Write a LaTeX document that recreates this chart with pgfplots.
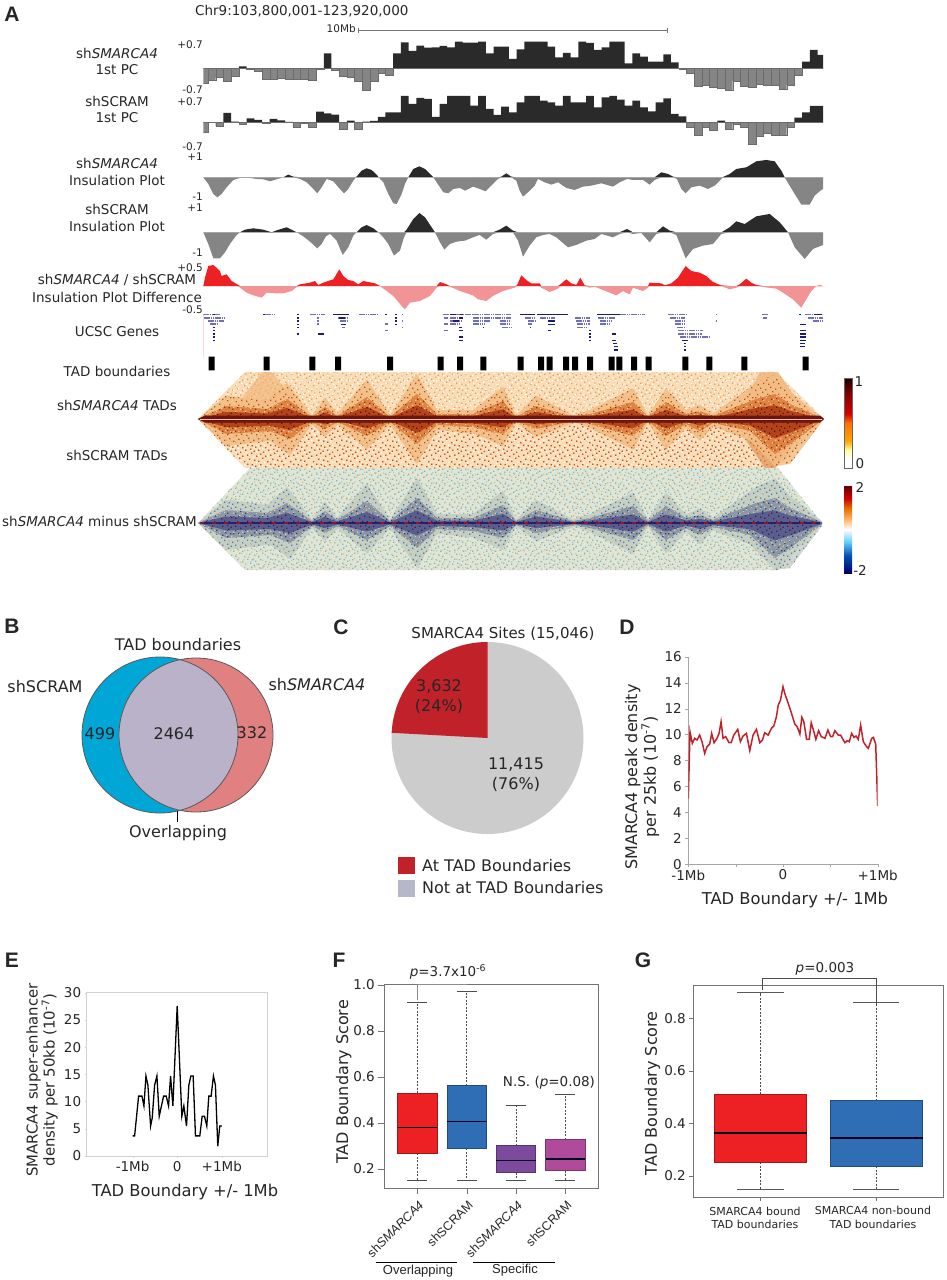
\documentclass[border=0pt]{standalone}
\usepackage{pgfplots}
\pgfplotsset{compat=1.18}
\usepackage{pgfplotstable}
\usepackage{fontspec}
\usepgfplotslibrary{statistics}
\usetikzlibrary{patterns}
\setmainfont{DejaVu Sans}
\newfontfamily\hv{Liberation Sans}
\newcommand{\fs}[1]{\fontsize{#1}{#1}\selectfont}
\newcommand{\Tx}[4][center]{\node[anchor=#1,inner sep=0pt,align=center,text=black!85] at (#2pt,-#3pt) {#4};}
\definecolor{pcdark}{HTML}{2A2A2A}
\definecolor{pcgrey}{HTML}{858585}
\definecolor{redp}{HTML}{ED2024}
\definecolor{pinkn}{HTML}{F29496}
\definecolor{navyd}{HTML}{1A1A78}
\definecolor{navyl}{HTML}{6F6FBE}
\definecolor{bred}{HTML}{ED2024}\definecolor{bblue}{HTML}{2F6DB5}
\definecolor{bpurp}{HTML}{7D4A9E}\definecolor{bmag}{HTML}{B04A9A}
\definecolor{vblue}{HTML}{00A6D6}\definecolor{vpink}{HTML}{E08080}\definecolor{vlens}{HTML}{B9B2C8}
\definecolor{pred}{HTML}{C1222A}\definecolor{pgr}{HTML}{CCCCCC}\definecolor{lgr}{HTML}{B4B8C8}
\definecolor{hA}{HTML}{F8DDB8}\definecolor{hB}{HTML}{E8A050}\definecolor{hC}{HTML}{C8501E}
\definecolor{hD}{HTML}{F2BE85}\definecolor{hE}{HTML}{C0501C}\definecolor{hF}{HTML}{DE8440}
\definecolor{hG}{HTML}{9A2A10}\definecolor{hH}{HTML}{F6C89A}\definecolor{hI}{HTML}{B4431A}
\definecolor{hJ}{HTML}{5A1208}\definecolor{hK}{HTML}{6A160F}\definecolor{hL}{HTML}{F0B070}
\definecolor{dA}{HTML}{DDE6D8}\definecolor{dB}{HTML}{7FB8BE}\definecolor{dC}{HTML}{E2BE82}
\definecolor{dD}{HTML}{BCCAC4}\definecolor{dE}{HTML}{5678A4}\definecolor{dF}{HTML}{8A98A8}
\definecolor{dG}{HTML}{2F3F85}\definecolor{dH}{HTML}{E8C890}\definecolor{dI}{HTML}{565F90}
\definecolor{dJ}{HTML}{5A1830}\definecolor{dK}{HTML}{2A1F66}\definecolor{dL}{HTML}{8A1830}
\newcommand{\dt}[2]{\pgfpathrectangle{\pgfqpoint{#1pt}{#2pt}}{\pgfqpoint{1.4pt}{1.4pt}}}
\pgfdeclarepatternformonly{spkA}{\pgfqpoint{0pt}{0pt}}{\pgfqpoint{24pt}{24pt}}{\pgfqpoint{23pt}{19pt}}{%
\dt{1}{2}\dt{5}{1}\dt{9}{4}\dt{14}{0.5}\dt{19}{3}\dt{3}{6}\dt{7}{8}\dt{12}{6}\dt{17}{7}\dt{21}{9}%
\dt{0.5}{11}\dt{5}{12}\dt{10}{10}\dt{15}{12}\dt{20}{13}\dt{2}{15}\dt{7}{16.5}\dt{12}{14.5}\dt{17}{17}\dt{21.5}{16.5}\pgfusepath{fill}}
\pgfdeclarepatternformonly{spkB}{\pgfqpoint{0pt}{0pt}}{\pgfqpoint{30pt}{18pt}}{\pgfqpoint{29pt}{17pt}}{%
\dt{3}{0.5}\dt{8}{3}\dt{13}{1}\dt{18}{3.5}\dt{24}{1}\dt{1}{5}\dt{6}{7}\dt{11}{5.5}\dt{16}{8}\dt{21}{6}\dt{26}{7.5}%
\dt{3.5}{10.5}\dt{9}{12}\dt{14}{11}\dt{19}{13}\dt{24}{11.5}\dt{1}{14.5}\dt{6}{15}\dt{12}{15}\dt{22}{15.5}\dt{27}{14.5}\pgfusepath{fill}}
\pgfdeclareverticalshading{cbA}{100bp}{color(0bp)=(white);color(25bp)=(white);color(30bp)=(white);color(35bp)=(yellow!35!white);color(40bp)=(orange!70!yellow);color(50bp)=(orange!90!red);color(55bp)=(red!85!black);color(67bp)=(red!50!black);color(75bp)=(black!90!red);color(100bp)=(black)}
\pgfdeclareverticalshading{cbB}{100bp}{color(0bp)=(blue!40!black);color(25bp)=(blue!40!black);color(35bp)=(blue!55!cyan!70!black);color(43bp)=(cyan!70!blue!60!white);color(50bp)=(white);color(56bp)=(orange!60!white);color(62bp)=(orange!90!black);color(68bp)=(red!80!black);color(75bp)=(red!40!black);color(100bp)=(red!40!black)}
\pgfplotsset{unbounded coords=jump,trk/.style={hide axis,scale only axis,clip=true},
 plain/.style={scale only axis,/pgf/number format/assume math mode=true,tick label style={font=\fs{13.5},text=black!85}}}
% 1st PC, bar heights
\pgfplotstableread[row sep=\\]{v\\-45\\-35\\-28\\-40\\-25\\6\\-4\\-8\\-32\\-32\\-30\\-32\\-32\\-32\\-37\\-2\\45\\-5\\-25\\-28\\-40\\-65\\-38\\-15\\-20\\45\\78\\52\\68\\62\\63\\67\\63\\80\\77\\77\\80\\45\\65\\65\\28\\57\\80\\80\\80\\65\\33\\46\\33\\80\\76\\55\\63\\80\\80\\15\\45\\35\\20\\20\\42\\18\\-2\\-15\\-55\\-52\\-58\\-60\\-65\\-38\\-55\\-57\\-48\\-52\\-52\\-64\\-50\\-20\\20\\55\\40\\}\trA
\pgfplotstableread[row sep=\\]{v\\-30\\-1\\-12\\28\\2\\-5\\12\\7\\-2\\10\\6\\1\\-15\\-2\\-15\\32\\27\\23\\-20\\5\\-22\\2\\4\\16\\30\\30\\79\\55\\73\\70\\16\\55\\79\\79\\79\\50\\79\\40\\22\\47\\30\\60\\79\\79\\65\\60\\50\\79\\60\\60\\79\\45\\75\\79\\68\\50\\65\\45\\33\\60\\72\\25\\18\\-15\\-38\\-15\\-25\\5\\-20\\-5\\-15\\-65\\-42\\-32\\-40\\-40\\-15\\14\\30\\49\\49\\}\trB
\pgfplotstablecreatecol[expr={\pgfplotstablerow}]{k}\trA
\pgfplotstablecreatecol[expr={\pgfplotstablerow}]{k}\trB
% insulation tracks
\pgfplotstableread[row sep=\\]{x y\\610 0\\625 -20\\640 -50\\652 -60\\665 -50\\680 -30\\700 -8\\720 -2\\750 -2\\770 -5\\790 -6\\810 -12\\830 -6\\850 0\\865 8\\880 2\\900 -5\\920 -15\\940 -35\\952 -48\\965 -30\\980 -5\\1000 -12\\1020 -35\\1032 -48\\1045 -35\\1060 -10\\1068 0\\1085 20\\1100 27\\1115 22\\1130 8\\1136 0\\1150 -15\\1165 -50\\1180 -78\\1190 -80\\1205 -50\\1215 -20\\1225 0\\1240 25\\1258 33\\1275 25\\1295 5\\1300 0\\1310 -15\\1330 -45\\1345 -48\\1360 -35\\1380 -32\\1395 -40\\1419 -28\\1419 0\\}\insA
\pgfplotstableread[row sep=\\]{x y\\0 0\\0 -28\\20 -35\\38 -42\\55 -25\\75 -5\\85 2\\100 12\\115 2\\130 -10\\140 -40\\150 -58\\165 -45\\185 -25\\195 -5\\215 -15\\235 -22\\255 -15\\280 -32\\305 -38\\330 -28\\355 -25\\385 -18\\420 -28\\440 -15\\462 -5\\480 -8\\510 -8\\530 -22\\545 -8\\565 15\\585 10\\600 2\\612 -5\\625 -35\\638 -48\\655 -30\\680 -25\\705 -35\\725 -25\\748 -2\\770 10\\790 25\\820 30\\850 48\\880 52\\905 48\\925 20\\935 0\\950 -25\\965 -50\\985 -82\\1010 -82\\1025 -55\\1040 -42\\1050 -35\\1050 0\\}\insB
\pgfplotstableread[row sep=\\]{x y\\610 0\\625 -35\\640 -78\\660 -78\\675 -60\\690 -35\\710 -8\\720 0\\735 8\\760 12\\790 8\\815 -2\\830 6\\860 15\\880 5\\890 0\\910 -12\\930 -28\\952 -48\\965 -35\\978 -12\\990 -5\\1010 -25\\1028 -68\\1045 -45\\1060 -10\\1070 0\\1085 15\\1100 22\\1120 12\\1135 0\\1150 -15\\1165 -35\\1182 -70\\1200 -55\\1212 -15\\1220 8\\1240 40\\1258 58\\1275 45\\1295 15\\1305 0\\1320 -30\\1333 -52\\1350 -35\\1370 -28\\1395 -25\\1419 -15\\1419 0\\}\insC
\pgfplotstableread[row sep=\\]{x y\\0 0\\0 -15\\20 -8\\40 -22\\60 -5\\80 8\\100 20\\120 5\\135 -25\\150 -73\\170 -40\\190 -15\\210 -8\\230 -5\\250 -15\\285 -45\\310 -38\\340 -25\\365 -20\\385 -5\\420 -15\\440 -5\\462 10\\480 -5\\505 -2\\530 -30\\550 -5\\570 18\\590 5\\610 -8\\625 -45\\638 -78\\660 -50\\690 -40\\720 -35\\745 -5\\770 15\\790 33\\815 25\\850 48\\890 55\\920 30\\945 0\\965 -45\\995 -80\\1020 -50\\1050 -38\\1050 0\\}\insD
\pgfplotstableread[row sep=\\]{x y\\610 0\\615 25\\625 60\\640 63\\650 55\\660 45\\665 30\\680 35\\695 15\\712 5\\720 -5\\740 -20\\760 -28\\785 -35\\800 -20\\825 -22\\850 -22\\875 -15\\890 -3\\900 5\\930 10\\945 15\\955 3\\975 12\\1000 20\\1018 50\\1030 30\\1045 18\\1060 15\\1075 5\\1090 15\\1125 8\\1140 0\\1160 -15\\1180 -30\\1205 -60\\1215 -70\\1230 -50\\1260 -45\\1290 -30\\1310 -5\\1320 12\\1340 5\\1350 -2\\1380 -15\\1419 -28\\1419 0\\}\insE
\pgfplotstableread[row sep=\\]{x y\\0 0\\0 -28\\15 -40\\40 -45\\60 -30\\90 -15\\125 -5\\132 2\\145 32\\160 18\\175 8\\200 8\\205 -5\\230 -18\\255 -8\\262 5\\280 20\\295 8\\310 3\\322 25\\335 2\\350 -5\\365 -2\\385 -10\\430 -28\\450 -15\\470 -25\\480 -5\\510 -15\\525 -5\\530 10\\565 8\\575 2\\595 8\\615 25\\638 60\\655 45\\680 40\\700 30\\720 12\\745 2\\770 -10\\790 -5\\800 5\\820 22\\835 10\\850 3\\870 -3\\910 -8\\930 -20\\960 -40\\985 -65\\1000 -40\\1015 -15\\1030 0\\1040 2\\1050 0\\}\insF
% TAD envelope for the contact maps (px along the track, px from the diagonal)
\pgfplotstableread[row sep=\\]{x y\\198 0\\226 13\\267 10\\287 20\\312 2\\325 12\\337 3\\367 22\\390 2\\417 25\\437 5\\473 5\\503 18\\516 2\\536 13\\573 2\\590 5\\633 17\\648 2\\666 17\\686 5\\700 8\\713 3\\756 20\\775 25\\790 15\\824 0\\790 -25\\775 -35\\750 -12\\713 -4\\700 -12\\686 -5\\666 -17\\648 -2\\633 -17\\590 -5\\575 -2\\536 -10\\516 -2\\503 -15\\473 -8\\437 -6\\417 -25\\390 -3\\367 -17\\338 -3\\325 -10\\312 -3\\290 -20\\270 -12\\226 -15\\}\env
\pgfplotstableread[row sep=\\]{x y\\-1 5.08\\-.982 10.22\\-.958 9.32\\-.933 9.71\\-.908 9.58\\-.88 9.96\\-.855 9.45\\-.827 8.55\\-.802 9.07\\-.774 9.27\\-.753 10.09\\-.728 9.37\\-.697 9.71\\-.675 10.09\\-.654 10.99\\-.633 9.71\\-.605 9.84\\-.57 9.37\\-.548 9.37\\-.52 9.96\\-.478 10.4\\-.45 9.45\\-.422 9.89\\-.386 10.09\\-.351 8.76\\-.316 9.96\\-.28 10.4\\-.245 9.37\\-.217 9.58\\-.193 10.14\\-.157 9.96\\-.122 10.48\\-.097 10.66\\-.069 11.38\\-.051 12.27\\-.026 12.66\\0 13.69\\.019 13.17\\.055 12.4\\.09 11.63\\.125 10.81\\.15 10.6\\.178 10.04\\.199 11.33\\.22 10.99\\.249 9.63\\.277 9.63\\.298 10.91\\.326 10.22\\.347 9.63\\.376 10.3\\.404 9.84\\.443 9.71\\.474 10.35\\.503 9.84\\.524 9.84\\.548 10.3\\.584 9.96\\.608 9.96\\.637 9.58\\.654 9.37\\.679 9.53\\.7 9.45\\.725 10.09\\.75 9.78\\.771 9.89\\.795 9.63\\.82 10.73\\.848 9.45\\.877 9.12\\.901 8.94\\.937 9.71\\.954 9.78\\.979 9.27\\1 4.49\\}\panD
\pgfplotstableread[row sep=\\]{x y\\-1 3.7\\-.955 3.7\\-.866 11\\-.791 11\\-.746 9.2\\-.701 14.7\\-.657 13\\-.597 5.5\\-.56 7\\-.507 13\\-.455 14.7\\-.403 7.3\\-.306 11\\-.246 11\\-.194 9.2\\-.149 14.7\\-.097 9.2\\0 27.6\\.104 7.3\\.149 9.2\\.209 5.5\\.261 13\\.306 14.7\\.358 14.7\\.41 3.7\\.507 3.7\\.56 7.3\\.612 7.3\\.664 5.5\\.709 11\\.761 11\\.813 14.7\\.858 13\\.91 1.8\\.955 5.5\\1 5.5\\}\panE
\newcommand{\barTrack}[2]{\begin{axis}[trk,at={(203.3pt,-#2pt)},anchor=west,width=619.7pt,height=76.2pt,xmin=-0.11,xmax=80.2,ymin=-1,ymax=1]
\addplot[ybar,bar width=1,bar shift=0pt,fill=pcdark,draw=none] table[x=k,y expr={max(\thisrow{v},0)*0.00875}] {#1};
\addplot[ybar,bar width=1,bar shift=0pt,fill=pcgrey,draw=black!58,line width=.3pt] table[x=k,y expr={min(\thisrow{v},0)*0.00875}] {#1};
\end{axis}}
\newcommand{\curveTrack}[6]{\begin{axis}[trk,at={(203.3pt,-#3pt)},anchor=west,width=619.7pt,height=60pt,xmin=610,xmax=2469,ymin=-90,ymax=90]
\addplot[fill=#4,draw=none] table[x=x,y expr={max(\thisrow{y},0)}] {#1};
\addplot[fill=#5,draw=none] table[x=x,y expr={min(\thisrow{y},0)}] {#1};
\addplot[fill=#4,draw=none] table[x expr=\thisrow{x}+1419,y expr={max(\thisrow{y},0)}] {#2};
\addplot[fill=#5,draw=none] table[x expr=\thisrow{x}+1419,y expr={min(\thisrow{y},0)}] {#2};
\end{axis}}
\newcommand{\envp}[2]{\addplot[#1,draw=none] table[x=x,y expr={max(min(\thisrow{y}*#2,47),-47)}] {\env};}
\newcommand{\BoxP}[8]{\addplot[boxplot prepared={draw direction=y,draw position=#1,box extend=#7,whisker extend=0,lower whisker=#2,lower quartile=#3,median=#4,upper quartile=#5,upper whisker=#6,every box/.style={fill=#8,draw=#8!70!black,line width=.8pt},every median/.style={draw=black!90!blue,line width=1.5pt},every whisker/.style={dash pattern=on 2pt off 1.5pt,draw=black!70,line width=.5pt}},mark=none] coordinates {};}
\begin{document}
\begin{tikzpicture}
\path[use as bounding box] (0,0) rectangle (946pt,-1280pt);
% ---- A tracks
\barTrack{\trA}{68.3}
\barTrack{\trB}{122.3}
\curveTrack{\insA}{\insB}{177.3}{pcdark}{pcgrey}{}
\curveTrack{\insC}{\insD}{232.3}{pcdark}{pcgrey}{}
\curveTrack{\insE}{\insF}{286}{redp}{pinkn}{}
% UCSC genes
\begin{axis}[trk,at={(203.3pt,-358pt)},anchor=south west,width=619.7pt,height=45pt,xmin=203.3,xmax=823,ymin=-0.5,ymax=13.56,y dir=reverse]
\addplot[navyl,line width=1.6pt,dash pattern=on 1.6pt off .6pt] coordinates {(203,0)(220,0)(nan,nan)(204,1)(225,1)(nan,nan)(208,2)(224,2)(nan,nan)(210,3)(218,3)(nan,nan)(265,0)(274,0)(nan,nan)(310,0)(325,0)(nan,nan)(317,1)(319,1)(nan,nan)(317,2)(319,2)(nan,nan)(317,3)(319,3)(nan,nan)(338,1)(349,1)(nan,nan)(340,2)(347,2)(nan,nan)(342,4)(345,4)(nan,nan)(359,0)(378,0)(nan,nan)(385,3)(388,3)(nan,nan)(385,5)(388,5)(nan,nan)(402,0)(403,0)(nan,nan)(402,2)(403,2)(nan,nan)(402,4)(403,4)(nan,nan)(443,0)(473,0)(nan,nan)(444,1)(448,1)(nan,nan)(444,3)(448,3)(nan,nan)(444,5)(448,5)(nan,nan)(450,1)(462,1)(nan,nan)(450,2)(462,2)(nan,nan)(450,3)(460,3)(nan,nan)(473,0)(511,0)(nan,nan)(473,1)(511,1)(nan,nan)(473,2)(490,2)(nan,nan)(473,3)(485,3)(nan,nan)(500,2)(511,2)(nan,nan)(500,3)(511,3)(nan,nan)(502,4)(511,4)(nan,nan)(525,1)(535,1)(nan,nan)(528,2)(535,2)(nan,nan)(528,3)(532,3)(nan,nan)(540,1)(555,1)(nan,nan)(575,1)(590,1)(nan,nan)(576,2)(590,2)(nan,nan)(577,3)(590,3)(nan,nan)(577,4)(588,4)(nan,nan)(598,1)(615,1)(nan,nan)(600,2)(612,2)(nan,nan)(600,3)(610,3)(nan,nan)(620,0)(645,0)(nan,nan)(668,0)(686,0)(nan,nan)(670,1)(685,1)(nan,nan)(675,2)(685,2)(nan,nan)(675,3)(685,3)(nan,nan)(677,4)(685,4)(nan,nan)(678,5)(703,5)(nan,nan)(678,6)(702,6)(nan,nan)(680,7)(709,7)(nan,nan)(716,0)(717,0)(nan,nan)(716,2)(717,2)(nan,nan)(762,0)(768,0)(nan,nan)(763,1)(767,1)(nan,nan)(805,0)(823,0)(nan,nan)(808,1)(823,1)(nan,nan)(813,2)(823,2)};
\addplot[navyd,line width=1.4pt] coordinates {(213,0)(215,0)(nan,nan)(213,4)(215,4)(nan,nan)(213,5)(215,5)(nan,nan)(213,6)(215,6)(nan,nan)(213,7)(215,7)(nan,nan)(213,8)(215,8)(nan,nan)(263,0)(265,0)(nan,nan)(297,0)(299,0)(nan,nan)(297,1)(299,1)(nan,nan)(297,2)(299,2)(nan,nan)(297,3)(299,3)(nan,nan)(297,4)(299,4)(nan,nan)(297,6)(299,6)(nan,nan)(318,6)(324,6)(nan,nan)(333,0)(349,0)(nan,nan)(339,1)(345,1)(nan,nan)(341,3)(346,3)(nan,nan)(385,0)(387,0)(nan,nan)(395,0)(397,0)(nan,nan)(395,1)(397,1)(nan,nan)(395,2)(397,2)(nan,nan)(395,3)(397,3)(nan,nan)(450,0)(456,0)(nan,nan)(453,2)(459,2)(nan,nan)(459,1)(463,1)(nan,nan)(460,0)(463,0)(nan,nan)(459,4)(462,4)(nan,nan)(459,5)(463,5)(nan,nan)(459,7)(463,7)(nan,nan)(459,8)(463,8)(nan,nan)(483,4)(484,4)(nan,nan)(520,0)(535,0)(nan,nan)(530,4)(531,4)(nan,nan)(537,0)(568,0)(nan,nan)(548,2)(555,2)(nan,nan)(548,3)(555,3)(nan,nan)(548,5)(551,5)(nan,nan)(589,5)(591,5)(nan,nan)(589,6)(591,6)(nan,nan)(589,7)(591,7)(nan,nan)(589,8)(591,8)(nan,nan)(597,0)(620,0)(nan,nan)(612,6)(616,6)(nan,nan)(612,8)(616,8)(nan,nan)(613,9)(617,9)(nan,nan)(614,10)(618,10)(nan,nan)(614,11)(618,11)(nan,nan)(682,8)(688,8)(nan,nan)(684,9)(686,9)(nan,nan)(684,10)(686,10)(nan,nan)(684,11)(686,11)(nan,nan)(799,0)(801,0)(nan,nan)(800,3)(806,3)(nan,nan)(800,5)(806,5)(nan,nan)(800,6)(806,6)(nan,nan)(800,7)(806,7)(nan,nan)(800,8)(806,8)(nan,nan)(800,9)(805,9)(nan,nan)(800,10)(805,10)(nan,nan)(814,0)(822,0)};
\addplot[pinkn!50,line width=.5pt] coordinates {(203.6,0)(203.6,13.5)};
\end{axis}
% TAD boundaries
\begin{axis}[trk,at={(203.3pt,-370.3pt)},anchor=south west,width=619.7pt,height=13.6pt,xmin=203.3,xmax=823,ymin=0,ymax=1]
\addplot[ybar,bar width=6,bar shift=0pt,fill=black,draw=none] coordinates {(211.7,1)(266.7,1)(312.3,1)(338,1)(390,1)(440.7,1)(460,1)(483.3,1)(520.7,1)(541,1)(549.7,1)(566,1)(575,1)(590,1)(611.7,1)(619.3,1)(634,1)(648.7,1)(685.3,1)(709.3,1)(744.3,1)(805.7,1)};
\end{axis}
% contact map TADs
\begin{axis}[trk,at={(198pt,-468pt)},anchor=south west,width=626pt,height=96pt,xmin=198,xmax=824,ymin=-49,ymax=47]
\addplot[fill=hA,draw=none] coordinates {(198,0)(245,47)(776,47)(824,0)(776,-49)(245,-49)};
\addplot[pattern=spkA,pattern color=hB,draw=none] coordinates {(198,0)(245,47)(776,47)(824,0)(776,-49)(245,-49)};
\addplot[pattern=spkB,pattern color=white,draw=none] coordinates {(198,0)(245,47)(776,47)(824,0)(776,-49)(245,-49)};
\addplot[pattern=spkA,pattern color=hC,draw=none] coordinates {(198,0)(245,-49)(776,-49)(824,0)};
\addplot[fill=hL,draw=none,opacity=.6] coordinates {(235,12)(262,47)(272,47)(300,12)};
\addplot[fill=hL,draw=none,opacity=.7] coordinates {(745,20)(760,47)(778,47)(800,15)};
\addplot[fill=hF,draw=none,opacity=.6] coordinates {(745,-20)(765,-49)(775,-49)(797,-20)};
\envp{fill=hD,opacity=.85}{1.8}
\envp{pattern=spkB,pattern color=hE}{1.8}
\envp{fill=hF}{1}
\envp{pattern=spkA,pattern color=hG}{1}
\envp{pattern=spkB,pattern color=hH}{1}
\envp{fill=hI}{.55}
\envp{pattern=spkA,pattern color=hJ}{.55}
\addplot[fill=hK,draw=none] coordinates {(198,0)(205,3.5)(820,3.5)(824,0)(820,-3.5)(205,-3.5)};
\addplot[red!25!white,line width=.6pt] coordinates {(200,0)(822,0)};
\end{axis}
% contact map difference
\begin{axis}[trk,at={(198pt,-570pt)},anchor=south west,width=624pt,height=102pt,xmin=198,xmax=822,ymin=-47,ymax=55]
\addplot[fill=dA,draw=none] coordinates {(198,0)(250,55)(778,55)(822,0)(778,-47)(245,-47)};
\addplot[pattern=spkA,pattern color=dB,draw=none] coordinates {(198,0)(250,55)(778,55)(822,0)(778,-47)(245,-47)};
\addplot[pattern=spkB,pattern color=dC,draw=none] coordinates {(198,0)(250,55)(778,55)(822,0)(778,-47)(245,-47)};
\envp{fill=dD,opacity=.75}{1.8}
\envp{pattern=spkA,pattern color=dE}{1.8}
\envp{pattern=spkB,pattern color=dC}{1.8}
\envp{fill=dF}{1}
\envp{pattern=spkB,pattern color=dG}{1}
\envp{pattern=spkA,pattern color=dH}{1}
\envp{fill=dI}{.5}
\envp{pattern=spkA,pattern color=dJ}{.5}
\addplot[dK,line width=2.5pt] coordinates {(200,0)(820,0)};
\addplot[dL,line width=2.5pt,dash pattern=on 4pt off 8pt] coordinates {(200,0)(820,0)};
\end{axis}
% ---- B
\begin{axis}[trk,clip=false,at={(0pt,-840pt)},anchor=south west,width=300pt,height=200pt,xmin=0,xmax=300,ymin=-840,ymax=-640]
\pgfplotsextra{
\fill[vblue] (axis cs:160,-735) circle[radius=78pt];
\fill[vpink] (axis cs:196,-735) circle[radius=77pt];
\begin{scope}\clip (axis cs:160,-735) circle[radius=78pt];
\fill[vlens] (axis cs:196,-735) circle[radius=77pt];\end{scope}
\draw[black!65,line width=.8pt] (axis cs:160,-735) circle[radius=78pt];
\draw[black!65,line width=.8pt] (axis cs:196,-735) circle[radius=77pt];
\draw[black,line width=.7pt] (axis cs:177,-811) -- (axis cs:177,-822);}
\end{axis}
% ---- C
\pgfmathsetmacro{\pieEnd}{90+3632/(3632+11415)*360}
\begin{axis}[trk,clip=false,at={(391.5pt,-834pt)},anchor=south west,width=192pt,height=192pt,xmin=-1,xmax=1,ymin=-1,ymax=1]
\pgfplotsextra{
\fill[pgr] (axis cs:0,0) circle[radius=96pt];
\fill[pred] (axis cs:0,0) -- ++(0pt,96pt) arc[start angle=90,end angle=\pieEnd,radius=96pt] -- cycle;}
\end{axis}
\fill[pred] (398pt,-857pt) rectangle (415pt,-874pt);
\fill[lgr] (398pt,-880pt) rectangle (415pt,-897pt);
% ---- D
\begin{axis}[plain,at={(688.3pt,-864.3pt)},anchor=south west,width=189.4pt,height=207.6pt,xmin=-1,xmax=1,ymin=0,ymax=16,
 axis x line*=bottom,axis y line*=left,axis line style={black!35,-},tick style={black!35},tick align=outside,major tick length=3pt,
 xtick={-1,-0.5,0,0.5,1},xticklabels={-1Mb,,0,,+1Mb},ytick={0,2,...,16},x tick label style={yshift=1pt},
 xlabel={TAD Boundary +/- 1Mb},xlabel style={at={(axis description cs:0.563,-0.172)},anchor=center,font=\fs{16.3},text=black!85},
 ylabel={SMARCA4 peak density\\per 25kb (10\textsuperscript{-7})},ylabel style={at={(axis description cs:-0.244,0.42)},anchor=center,align=center,font=\fs{16},text=black!85}]
\addplot[pred,line width=1.5pt] table[x=x,y=y] {\panD};
\end{axis}
% ---- E
\begin{axis}[plain,at={(86.7pt,-1156pt)},anchor=south west,width=181pt,height=163.3pt,xmin=-2.03,xmax=2.03,ymin=0,ymax=30,
 axis line style={black!18,line width=.9pt},tick style={black!18},tick align=outside,major tick length=2pt,tick pos=left,
 xtick={-1,0,1},xticklabels={-1Mb,0,+1Mb},ytick={0,5,...,30},
 xlabel={TAD Boundary +/- 1Mb},xlabel style={at={(axis description cs:0.543,-0.22)},anchor=center,font=\fs{16.3},text=black!85},
 ylabel={SMARCA4 super-enhancer\\density per 50kb (10\textsuperscript{-7})},ylabel style={at={(axis description cs:-0.247,0.465)},anchor=center,align=center,font=\fs{14.9},text=black!85}]
\addplot[black,line width=1.3pt] table[x=x,y=y] {\panE};
\end{axis}
% ---- F
\begin{axis}[plain,clip=false,at={(384.3pt,-1188pt)},anchor=south west,width=214pt,height=204pt,xmin=0.331,xmax=4.669,ymin=0.1175,ymax=1.003,
 axis line style={black!55,line width=.8pt},tick style={black!55},tick align=outside,major tick length=6pt,tick pos=left,
 xtick={1,2,3,4},xticklabels={sh\textit{SMARCA4},shSCRAM,sh\textit{SMARCA4},shSCRAM},
 x tick label style={rotate=45,anchor=north east,font=\hv\fs{12.5},yshift=-1pt},
 ytick={0.2,0.4,0.6,0.8,1.0},yticklabels={0.2,0.4,0.6,0.8,1.0},
 ylabel={TAD Boundary Score},ylabel style={at={(axis description cs:-0.19,0.52)},anchor=center,font=\fs{16},text=black!85}]
\BoxP{1}{0.151}{0.268}{0.381}{0.528}{0.923}{0.8}{bred}
\BoxP{2}{0.151}{0.29}{0.407}{0.562}{0.971}{0.8}{bblue}
\BoxP{3}{0.151}{0.184}{0.236}{0.301}{0.478}{0.8}{bpurp}
\BoxP{4}{0.151}{0.193}{0.243}{0.327}{0.526}{0.8}{bmag}
\addplot[black!70,line width=.6pt] coordinates {(0.8,0.923)(1.2,0.923)(nan,nan)(0.8,0.151)(1.2,0.151)(nan,nan)(1.8,0.971)(2.2,0.971)(nan,nan)(1.8,0.151)(2.2,0.151)(nan,nan)(2.8,0.478)(3.2,0.478)(nan,nan)(2.8,0.151)(3.2,0.151)(nan,nan)(3.8,0.526)(4.2,0.526)(nan,nan)(3.8,0.151)(4.2,0.151)};
\addplot[black!45,line width=1.3pt] coordinates {(1,0.935)(1,1.0)(2,1.0)};
\end{axis}
% ---- G
\begin{axis}[plain,clip=false,at={(693.3pt,-1197pt)},anchor=south west,width=250pt,height=212pt,xmin=0.422,xmax=2.578,ymin=0.12,ymax=0.928,
 axis line style={black!55,line width=.8pt},tick style={black!55},tick align=outside,major tick length=4pt,tick pos=left,
 xtick={1,2},xticklabels={},
 ytick={0.2,0.4,0.6,0.8},yticklabels={0.2,0.4,0.6,0.8},
 ylabel={TAD Boundary Score},ylabel style={at={(axis description cs:-0.163,0.49)},anchor=center,font=\fs{16},text=black!85}]
\BoxP{1}{0.15}{0.253}{0.364}{0.511}{0.899}{0.8}{bred}
\BoxP{2}{0.15}{0.238}{0.345}{0.487}{0.861}{0.8}{bblue}
\addplot[black!65,line width=.6pt] coordinates {(0.8,0.899)(1.2,0.899)(nan,nan)(0.8,0.15)(1.2,0.15)(nan,nan)(1.8,0.861)(2.2,0.861)(nan,nan)(1.8,0.15)(2.2,0.15)};
\addplot[black!70,line width=.6pt] coordinates {(1.017,0.91)(1.017,0.953)(2,0.953)(2,0.85)};
\end{axis}
% ---- colour bars
\shade[shading=cbA] (844pt,-378pt) rectangle (852pt,-468pt);
\draw[black!60,line width=.5pt] (844pt,-378pt) rectangle (852pt,-468pt);
\shade[shading=cbB] (844pt,-486pt) rectangle (852pt,-573pt);
% ---- texts
\begin{scope}[font=\hv\bfseries\fs{21}]
\Tx{12}{14}{A}\Tx{12}{626}{B}\Tx{341}{627}{C}\Tx{627}{627}{D}\Tx{12}{960}{E}\Tx{339}{960}{F}\Tx{643}{960}{G}
\end{scope}
\begin{scope}[font=\fs{13.5}]
\Tx[west]{195}{11}{Chr9:103,800,001-123,920,000}
\Tx{117}{53}{sh\textit{SMARCA4}}\Tx{117}{70}{1st PC}
\Tx{117}{101}{shSCRAM}\Tx{117}{118}{1st PC}
\Tx{117}{163}{sh\textit{SMARCA4}}\Tx{117}{180}{Insulation Plot}
\Tx{117}{209}{shSCRAM}\Tx{117}{226}{Insulation Plot}
\Tx{117}{280}{sh\textit{SMARCA4} / shSCRAM}\Tx{117}{297}{Insulation Plot Difference}
\Tx{117}{332}{UCSC Genes}\Tx{117}{371}{TAD boundaries}
\Tx{117}{405}{sh\textit{SMARCA4} TADs}\Tx{117}{455}{shSCRAM TADs}
\Tx[west]{2}{521}{sh\textit{SMARCA4} minus shSCRAM}
\Tx{859}{382}{1}\Tx{860}{464}{0}\Tx{860}{487}{2}\Tx{860}{570}{-2}
\end{scope}
\begin{scope}[font=\fs{10.5}]
\Tx[east]{356}{29}{10Mb}
\Tx[east]{203}{45}{+0.7}\Tx[east]{203}{90}{-0.7}\Tx[east]{203}{102}{+0.7}\Tx[east]{203}{147}{-0.7}
\Tx[east]{203}{157}{+1}\Tx[east]{203}{197}{-1}\Tx[east]{203}{208}{+1}\Tx[east]{203}{253}{-1}
\Tx[east]{203}{268}{+0.5}\Tx[east]{203}{310}{-0.5}
\end{scope}
\draw[black!55,line width=.5pt] (358pt,-27.5pt) -- (358pt,-32.5pt) (358pt,-30pt) -- (667pt,-30pt) (667pt,-27.5pt) -- (667pt,-32.5pt);
\begin{scope}[font=\fs{16}]
\Tx{178}{645}{TAD boundaries}\Tx{45}{687}{shSCRAM}\Tx{317}{685}{sh\textit{SMARCA4}}
\Tx{100}{734}{499}\Tx{174}{734}{2464}\Tx{252}{733}{332}\Tx{178}{833}{Overlapping}
\Tx{439}{697}{3,632\\[4pt](24\%)}\Tx{516}{775}{11,415\\[4pt](76\%)}
\Tx[west]{422}{866}{At TAD Boundaries}\Tx[west]{422}{888}{Not at TAD Boundaries}
\end{scope}
\begin{scope}[font=\fs{15}]
\Tx{503}{634}{SMARCA4 Sites (15,046)}
\end{scope}
\begin{scope}[font=\fs{13.5}]
\Tx{448}{972}{\textit{p}=3.7x10\textsuperscript{-6}}
\Tx{549}{1083}{N.S. (\textit{p}=0.08)}
\Tx{825}{969}{\textit{p}=0.003}
\end{scope}
\begin{scope}[font=\fs{11}]
\Tx{755}{1211}{SMARCA4 bound}\Tx{755}{1224}{TAD boundaries}
\Tx{873}{1210}{SMARCA4 non-bound}\Tx{873}{1224}{TAD boundaries}
\end{scope}
\begin{scope}[font=\hv\fs{13}]
\Tx{418}{1271}{Overlapping}\Tx{515}{1270}{Specific}
\end{scope}
\draw[black,line width=.7pt] (375.7pt,-1262pt) -- (456.7pt,-1262pt) (473pt,-1262pt) -- (555pt,-1262pt);
\end{tikzpicture}
\end{document}
